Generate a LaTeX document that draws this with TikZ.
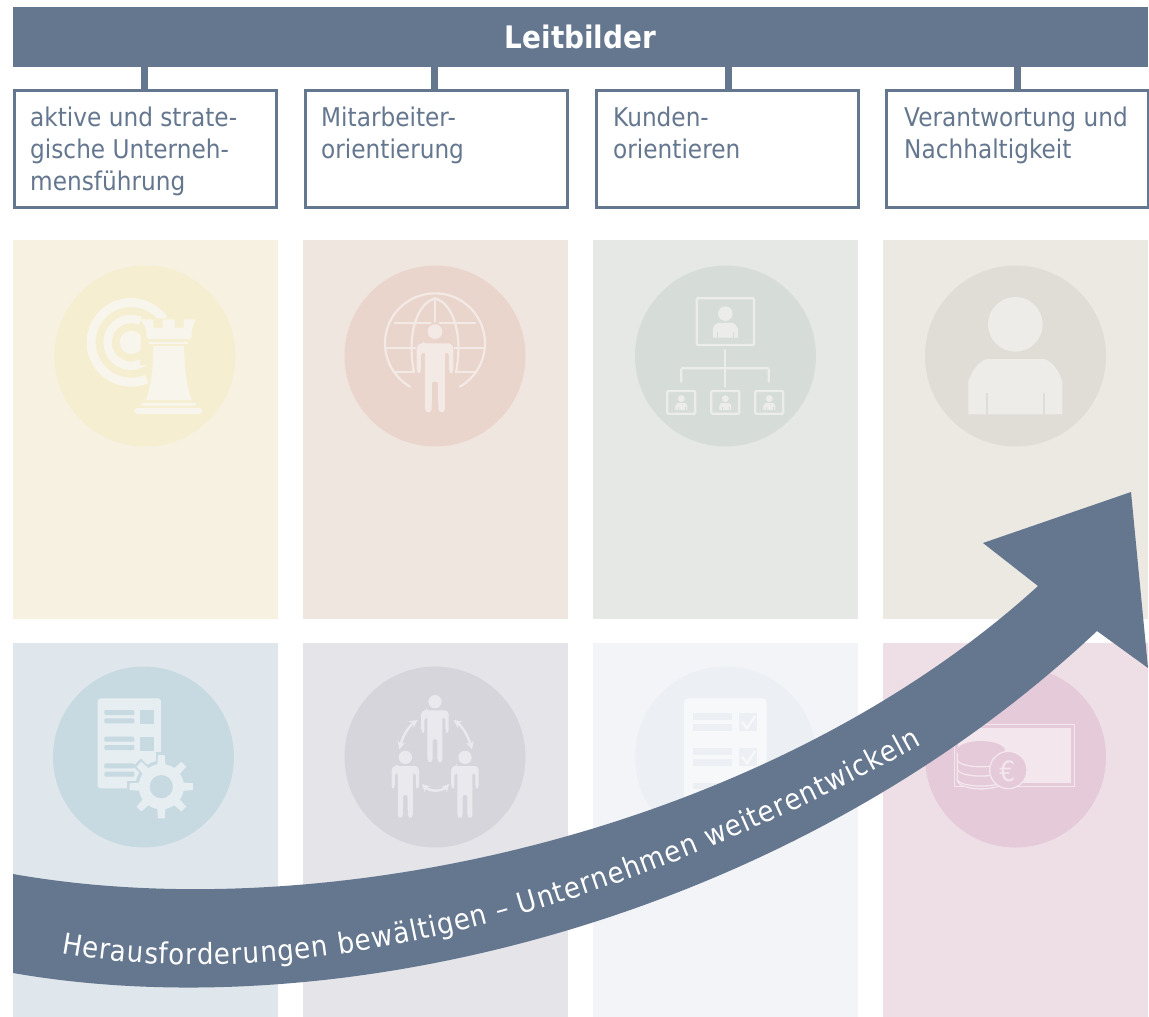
\documentclass[tikz,border=0pt]{standalone}
\usepackage{fontspec}
\setmainfont{DejaVu Sans}[FakeStretch=0.9]
\usetikzlibrary{arrows.meta,decorations.text}
\definecolor{slate}{HTML}{64778F}
\definecolor{pA}{HTML}{F7F1E1}\definecolor{cA}{HTML}{F5EED0}\definecolor{iA}{HTML}{F8F6EC}
\definecolor{pB}{HTML}{F0E6E0}\definecolor{cB}{HTML}{EAD5CD}\definecolor{iB}{HTML}{F4EAE5}
\definecolor{pC}{HTML}{E6E8E6}\definecolor{cC}{HTML}{D6DCD8}\definecolor{iC}{HTML}{ECEDEB}
\definecolor{pD}{HTML}{ECE9E3}\definecolor{cD}{HTML}{E0DCD6}\definecolor{iD}{HTML}{EEECE8}
\definecolor{pE}{HTML}{DFE7ED}\definecolor{cE}{HTML}{C8DAE1}\definecolor{iE}{HTML}{E6EEF2}
\definecolor{pF}{HTML}{E4E4E9}\definecolor{cF}{HTML}{D5D5DB}\definecolor{iF}{HTML}{E9E9EE}
\definecolor{pG}{HTML}{F2F4F8}\definecolor{cG}{HTML}{ECEFF3}\definecolor{iG}{HTML}{F6F8FA}
\definecolor{pH}{HTML}{EEDFE6}\definecolor{cH}{HTML}{E5CAD9}\definecolor{iH}{HTML}{F3E6ED}
\tikzset{
  leitbox/.style={draw=slate,line width=3pt,fill=white,minimum width=262pt,minimum height=117pt,inner sep=0pt},
  stemline/.style={draw=slate,line width=7pt},
  lbl/.style={anchor=north west,align=left,text=slate,font=\fontsize{25.8}{32}\selectfont,inner sep=0pt},
}
% person: #1 x, #2 y, #3 scale, #4 head radius, #5 colour
\newcommand{\personfig}[5]{%
  \fill[#5] (#1,#2) circle[radius=#4];
  \begin{scope}[shift={(#1,#2)},scale=#3]
  \fill[#5,rounded corners=2pt] (-34,35) -- (34,35) .. controls (48,35) and (55,45) .. (55,58) -- (55,118) -- (48,128) -- (42,118) -- (42,64) -- (30,62) -- (30,238) -- (20,245) -- (10,238) -- (9,150) -- (-9,150) -- (-10,238) -- (-20,245) -- (-30,238) -- (-30,62) -- (-42,64) -- (-42,118) -- (-48,128) -- (-55,118) -- (-55,58) .. controls (-55,45) and (-48,35) .. (-34,35) -- cycle;
  \end{scope}}
% bust: #1 x, #2 y, #3 scale, #4 colour, #5 slit colour
\newcommand{\bustfig}[5]{%
  \begin{scope}[shift={(#1,#2)},scale=#3]
  \fill[#4] (0,0) circle[radius=82];
  \fill[#4] (-141,270) -- (-141,172) .. controls (-128,128) and (-100,104) .. (-82,104) -- (82,104) .. controls (100,104) and (128,128) .. (141,172) -- (141,270) -- cycle;
  \fill[#5] (-89,206) rectangle (-83,270);
  \fill[#5] (83,206) rectangle (89,270);
  \end{scope}}
\begin{document}
\begin{tikzpicture}[x=1pt,y=-1pt]
\useasboundingbox (0,0) rectangle (1149,1017);
\fill[white] (0,0) rectangle (1149,1017);
% panels
\fill[pA] (13,240) rectangle (278,619);
\fill[pB] (303,240) rectangle (568,619);
\fill[pC] (593,240) rectangle (858,619);
\fill[pD] (883,240) rectangle (1148,619);
\fill[pE] (13,643) rectangle (278,1017);
\fill[pF] (303,643) rectangle (568,1017);
\fill[pG] (593,643) rectangle (858,1017);
\fill[pH] (883,643) rectangle (1148,1017);
% circles
\fill[cA] (145,356) circle[radius=90.5];
\fill[cB] (435,356) circle[radius=90.5];
\fill[cC] (725.5,356) circle[radius=90.5];
\fill[cD] (1015.5,356) circle[radius=90.5];
\fill[cE] (143.5,757) circle[radius=90.5];
\fill[cF] (435,757) circle[radius=90.5];
\fill[cG] (725.5,757) circle[radius=90.5];
\fill[cH] (1015.5,757) circle[radius=90.5];
% rook icon
\begin{scope}[shift={(40,255)},scale=1/3]
  \draw[iA,line width=9pt] plot[domain=67:325,samples=70] ({273+119.5*cos(\x)},{262+119.5*sin(\x)});
  \draw[iA,line width=8.5pt] plot[domain=45:294,samples=60] ({273+70*cos(\x)},{262+70*sin(\x)});
  \fill[iA] (274,262) circle[radius=35];
  \fill[cA] (305,180) -- (340,180) -- (340,190) -- (470,190) -- (470,290) -- (332,290) -- (332,330) -- (300,330) -- cycle;
  \fill[iA] (303,193) -- (340,193) -- (340,218) -- (368,218) -- (368,193) -- (404,193) -- (404,218) -- (432,218) -- (432,193) -- (466,193) -- (455,225) -- (455,245) -- (450,252) -- (325,252) -- (319,245) -- (319,225) -- cycle;
  \fill[iA] (328,260) rectangle (445,267);
  \fill[iA] (340,273) -- (433,273) .. controls (433,340) and (440,395) .. (455,435) -- (318,435) .. controls (333,395) and (340,340) .. (340,273) -- cycle;
  \fill[iA,rounded corners=1pt] (304,443) rectangle (468,452);
  \fill[iA,rounded corners=3pt] (283,459) rectangle (488,477);
\end{scope}
% globe and person icon
\begin{scope}[shift={(40,255)},scale=1/3]
  \begin{scope}[line width=2.2pt,line cap=round]
  \draw[iB] plot[domain=120:420,samples=80] ({1185+150*cos(\x)},{265+150*sin(\x)});
  \draw[iB] (1185,130) -- (1185,200);
  \draw[iB] (1065,205) -- (1172,205) (1198,205) -- (1305,205);
  \draw[iB] (1040,280) -- (1125,280) (1245,280) -- (1330,280);
  \draw[iB] (1065,352) -- (1120,352) (1250,352) -- (1305,352);
  \draw[iB] (1185,130) .. controls (1130,145) and (1100,240) .. (1122,352);
  \draw[iB] (1185,130) .. controls (1240,145) and (1270,240) .. (1248,352);
  \end{scope}
  \personfig{1185}{230}{1}{22}{iB}
\end{scope}
% organisation chart icon
\begin{scope}[shift={(620,255)},scale=1/3]
  \begin{scope}[line width=2.2pt,rounded corners=1pt]
  \draw[iC] (230,130) rectangle (402,270);
  \draw[iC,line cap=round] (316,285) -- (316,395);
  \draw[iC,line cap=round] (184,380) -- (184,340) -- (446,340) -- (446,380);
  \draw[iC] (142,408) rectangle (226,476);
  \draw[iC] (274,408) rectangle (358,476);
  \draw[iC] (406,408) rectangle (490,476);
  \end{scope}
  \bustfig{316}{176}{.266}{iC}{cC}
  \bustfig{184}{431}{.128}{iC}{cC}
  \bustfig{316}{431}{.128}{iC}{cC}
  \bustfig{448}{431}{.128}{iC}{cC}
\end{scope}
% single person icon
\begin{scope}[shift={(620,255)},scale=1/3]
  \bustfig{1186}{208}{1}{iD}{cD}
\end{scope}
% document and gear icon
\begin{scope}[shift={(40,660)},scale=1/3]
  \fill[iE,rounded corners=3pt] (173,115) rectangle (363,385);
  \foreach \y in {150,175,230,255,310,335} \fill[cE,rounded corners=1pt] (193,\y) rectangle (283,\y+15);
  \fill[cE] (300,150) rectangle (343,192);
  \fill[cE] (300,230) rectangle (343,272);
  \begin{scope}[shift={(364,380)}]
    \fill[cE] (0,0) circle[radius=78];
    \foreach \a in {0,45,...,315} \draw[cE,line width=11pt] (\a:60) -- (\a:103);
    \foreach \a in {0,45,...,315} \fill[iE,rotate=\a] (55,-13) -- (95,-10) -- (95,10) -- (55,13) -- cycle;
    \fill[iE] (0,0) circle[radius=68];
    \fill[cE] (0,0) circle[radius=35];
  \end{scope}
\end{scope}
% three persons icon
\begin{scope}[shift={(40,660)},scale=1/3]
  \personfig{1185}{125}{.75}{20}{iF}
  \personfig{1096}{292}{.75}{20}{iF}
  \personfig{1275}{292}{.75}{20}{iF}
  \draw[iF,line width=2.4pt,{Stealth[length=8pt,width=8pt]}-{Stealth[length=8pt,width=8pt]}] (1133,180) .. controls (1105,200) and (1088,230) .. (1078,268);
  \draw[iF,line width=2.4pt,{Stealth[length=8pt,width=8pt]}-{Stealth[length=8pt,width=8pt]}] (1241,180) .. controls (1268,200) and (1285,230) .. (1296,268);
  \draw[iF,line width=2.4pt,{Stealth[length=8pt,width=8pt]}-{Stealth[length=8pt,width=8pt]}] (1145,372) .. controls (1170,395) and (1205,395) .. (1228,372);
\end{scope}
% checklist icon
\begin{scope}[shift={(620,660)},scale=1/3]
  \fill[iG,rounded corners=4pt] (192,115) rectangle (440,560);
  \foreach \y in {160,193,265,297,368} \fill[cG] (220,\y) rectangle (336,\y+20);
  \fill[cG] (358,160) rectangle (412,213);
  \fill[cG] (358,265) rectangle (412,317);
  \draw[iG,line width=2.4pt] (366,185) -- (381,205) -- (405,168);
  \draw[iG,line width=2.4pt] (366,290) -- (381,310) -- (405,273);
\end{scope}
% money icon
\begin{scope}[shift={(940,710)},scale=1/3]
  \draw[iH,line width=1.5pt] (43,43) rectangle (404,230);
  \fill[iH] (54,54) rectangle (392,219);
  \fill[cH,draw=iH,line width=1.3pt] (52,122) -- (52,212) .. controls (60,245) and (185,245) .. (195,212) -- (195,122) -- cycle;
  \foreach \y in {150,178,208} \draw[iH,line width=1.3pt] (52,\y) .. controls (60,\y+27) and (185,\y+27) .. (195,\y);
  \fill[cH] (123,122) ellipse[x radius=72,y radius=29];
  \fill[cH,draw=iH,line width=1.3pt] (205,180) circle[radius=56];
  \node[text=iH,font=\fontsize{28}{28}\selectfont,inner sep=0pt] (euro) at (202,183) {€};
\end{scope}
% header
\node[fill=slate,text=white,minimum width=1135pt,minimum height=60pt,inner sep=0pt,font=\fontsize{31}{31}\selectfont\bfseries] (bar) at (580.5,37) {Leitbilder};
\node[leitbox] (b1) at (145,149) {};
\node[leitbox] (b2) at (436,149) {};
\node[leitbox] (b3) at (727,149) {};
\node[leitbox] (b4) at (1017,149) {};
\coordinate (s1) at ([xshift=-1pt]b1.north);
\coordinate (s2) at ([xshift=-2pt]b2.north);
\coordinate (s3) at ([xshift=1pt]b3.north);
\coordinate (s4) at (b4.north);
\draw[stemline] (s1) -- (s1 |- bar.south);
\draw[stemline] (s2) -- (s2 |- bar.south);
\draw[stemline] (s3) -- (s3 |- bar.south);
\draw[stemline] (s4) -- (s4 |- bar.south);
\node[lbl] (t1) at (30,107) {aktive und strate-\\gische Unterneh-\\mensführung};
\node[lbl] (t2) at (321,107) {Mitarbeiter-\\orientierung};
\node[lbl] (t3) at (613,107) {Kunden-\\orientieren};
\node[lbl] (t4) at (904,107) {Verantwortung und\\Nachhaltigkeit};
% big arrow
\fill[slate] (13,874) .. controls (330,930) and (770,830) .. (1038,586)
  -- (983,543) -- (1131,492) -- (1148,668) -- (1097,631)
  .. controls (790,920) and (340,1030) .. (13,973) -- cycle;
\path[decorate,decoration={text along path,text align=fit to path,text color=white,
  text={|\fontsize{29}{29}\selectfont|Herausforderungen bewältigen – Unternehmen weiterentwickeln}}]
  (61,953) .. controls (320,1000) and (640,900) .. (921,745);
\end{tikzpicture}
\end{document}
